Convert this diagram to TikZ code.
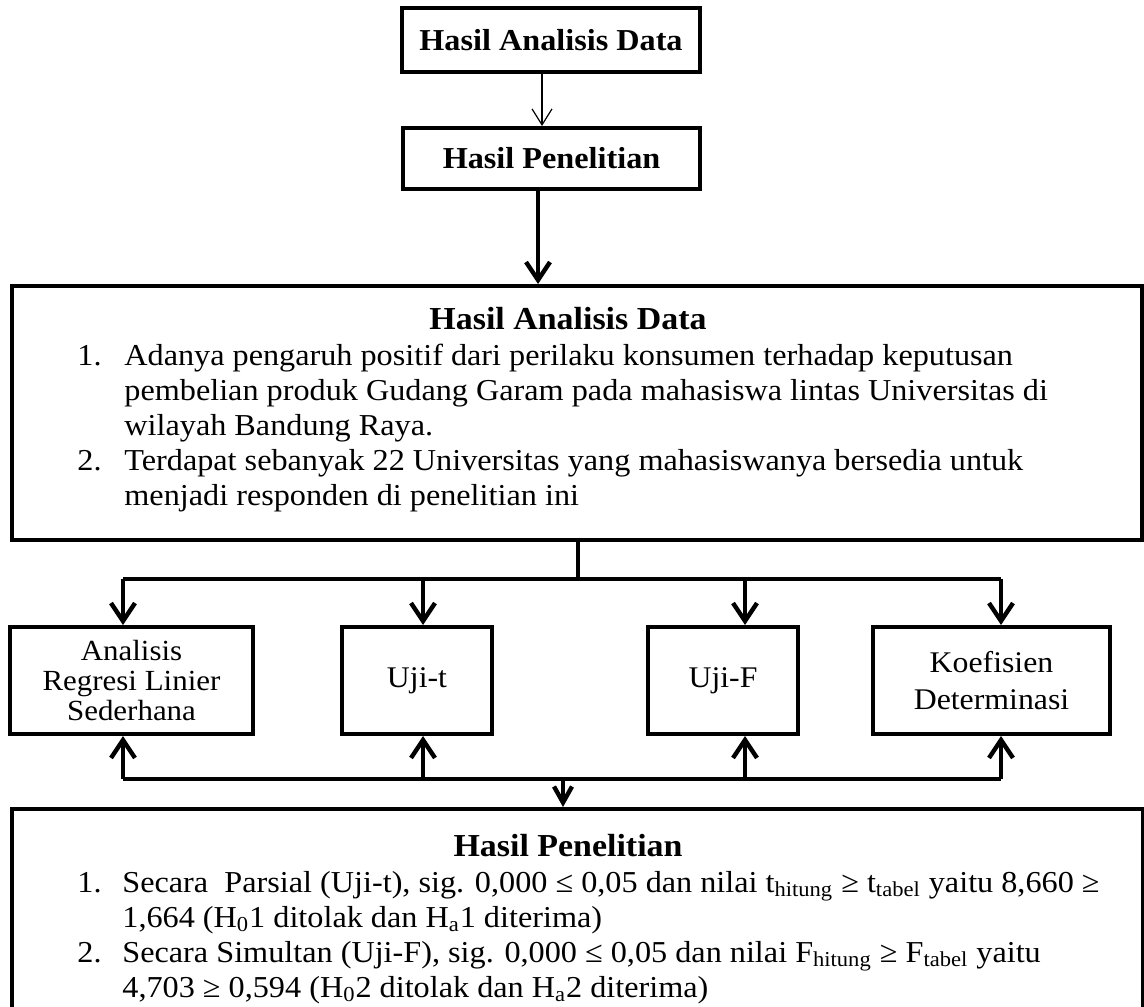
\documentclass[tikz,border=0pt]{standalone}
\usepackage{fontspec}
\setmainfont{Liberation Serif}[FakeStretch=1.06]
\usetikzlibrary{arrows.meta}
\tikzset{
  box/.style={draw, line width=2pt, rectangle, inner sep=0pt, align=center},
  body/.style={font=\fontsize{15.2pt}{17.5pt}\selectfont, inner sep=0pt, anchor=base west},
  bodyc/.style={font=\fontsize{16pt}{17.5pt}\selectfont\bfseries, inner sep=0pt, anchor=base},
  small/.style={font=\fontsize{14.6pt}{15.2pt}\selectfont},
  smallw/.style={font=\fontsize{15pt}{18.5pt}\selectfont},
  topt/.style={font=\fontsize{15.2pt}{17pt}\selectfont\bfseries},
  thk/.style={line width=2.2pt},
  thkarr/.style={line width=2.2pt, -{Straight Barb[length=9pt,width=12pt,line width=2.2pt]}},
  thinarr/.style={line width=0.6pt, -{Straight Barb[length=8pt,width=10pt,line width=0.6pt]}}
}
\begin{document}
\begin{tikzpicture}[x=0.5pt,y=-0.5pt]
\useasboundingbox (0,0) rectangle (1144,1006);
\clip (0,0) rectangle (1144,1006);
% top boxes
\node[box, topt, minimum width=149pt, minimum height=32pt] (t1) at (551,40) {Hasil Analisis Data};
\node[box, topt, minimum width=148.5pt, minimum height=30.5pt] (t2) at (551.5,158.5) {Hasil Penelitian};
\draw[thinarr] (t1.south -| 542,0) -- (t2.north -| 542,0);
% big box 1
\node[box, minimum width=565pt, minimum height=127pt] (b1) at (577,413) {};
\draw[thkarr] (t2.south -| 538,0) -- (b1.north -| 538,0);
\node[bodyc] (b1t) at (568,329) {Hasil Analisis Data};
\node[body] (b1n1) at (77,365) {1.};
\node[body] (b1l1) at (124,365) {Adanya pengaruh positif dari perilaku konsumen terhadap keputusan};
\node[body] (b1l2) at (124,400) {pembelian produk Gudang Garam pada mahasiswa lintas Universitas di};
\node[body] (b1l3) at (124,435) {wilayah Bandung Raya.};
\node[body] (b1n2) at (77,470) {2.};
\node[body] (b1l4) at (124,470) {Terdapat sebanyak 22 Universitas yang mahasiswanya bersedia untuk};
\node[body] (b1l5) at (124,505) {menjadi responden di penelitian ini};
% middle boxes
\node[box, small, minimum width=121.5pt, minimum height=53.5pt] (bA) at (131.5,680.5) {Analisis\\Regresi Linier\\Sederhana};
\node[box, smallw, minimum width=75pt, minimum height=53.5pt] (bB) at (417,680.5) {Uji-t};
\node[box, smallw, minimum width=75pt, minimum height=53.5pt] (bC) at (723,680.5) {Uji-F};
\node[box, smallw, minimum width=118.5pt, minimum height=53.5pt] (bD) at (991.5,680.5) {Koefisien\\Determinasi};
% big box 2
\node[box, minimum width=565.5pt, minimum height=115.5pt] (b2) at (577.5,924.5) {};
\node[bodyc] (b2t) at (568,856) {Hasil Penelitian};
\node[body] (b2n1) at (77,892) {1.};
\node[body] (b2l1) at (122,892) {Secara\ \ Parsial (Uji-t), sig. 0,000 ≤ 0,05 dan nilai t\textsubscript{hitung} ≥ t\textsubscript{tabel} yaitu 8,660 ≥};
\node[body] (b2l2) at (122,927) {1,664 (H\textsubscript{0}1 ditolak dan H\textsubscript{a}1 diterima)};
\node[body] (b2n2) at (77,962) {2.};
\node[body] (b2l3) at (122,962) {Secara Simultan (Uji-F), sig. 0,000 ≤ 0,05 dan nilai F\textsubscript{hitung} ≥ F\textsubscript{tabel} yaitu};
\node[body] (b2l4) at (122,997) {4,703 ≥ 0,594 (H\textsubscript{0}2 ditolak dan H\textsubscript{a}2 diterima)};
% distribution bus
\coordinate (ta) at (123,579);
\coordinate (tb) at (423,579);
\coordinate (tc) at (745,579);
\coordinate (td) at (1001,579);
\coordinate (tm) at (578,579);
\draw[thk] (b1.south -| tm) -- (tm);
\draw[thk] (ta) -- (td);
\draw[thkarr] (ta) -- (ta |- bA.north);
\draw[thkarr] (tb) -- (tb |- bB.north);
\draw[thkarr] (tc) -- (tc |- bC.north);
\draw[thkarr] (td) -- (td |- bD.north);
% bottom bus
\coordinate (ua) at (123,779);
\coordinate (ub) at (423,779);
\coordinate (uc) at (745,779);
\coordinate (ud) at (1001,779);
\coordinate (um) at (563,779);
\draw[thk] (ua) -- (ud);
\draw[thkarr] (ua) -- (ua |- bA.south);
\draw[thkarr] (ub) -- (ub |- bB.south);
\draw[thkarr] (uc) -- (uc |- bC.south);
\draw[thkarr] (ud) -- (ud |- bD.south);
\draw[line width=2.2pt, -{Straight Barb[length=8pt,width=9pt,line width=2.2pt]}] (um) -- (um |- b2.north);
\end{tikzpicture}
\end{document}
